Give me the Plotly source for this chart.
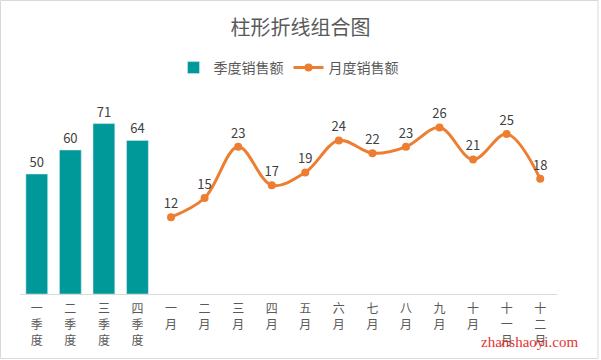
import plotly.graph_objects as go

categories = ["一季度", "二季度", "三季度", "四季度", "一月", "二月", "三月", "四月", "五月", "六月",
              "七月", "八月", "九月", "十月", "十一月", "十二月"]
quarter_cats = categories[:4]
quarter_sales = [50, 60, 71, 64]
month_cats = categories[4:]
month_sales = [12, 15, 23, 17, 19, 24, 22, 23, 26, 21, 25, 18]
tick_text = ["<br>".join(list(c)) for c in categories]

font_family = "Noto Sans CJK SC, Microsoft YaHei, sans-serif"

fig = go.Figure()
fig.add_trace(go.Bar(
    x=quarter_cats, y=quarter_sales, name="季度销售额",
    marker_color="#009999", width=0.65,
    text=quarter_sales, textposition="outside", cliponaxis=False,
    textfont=dict(size=13, color="#404040"),
))
fig.add_trace(go.Scatter(
    x=month_cats, y=month_sales, name="月度销售额", yaxis="y2",
    mode="lines+markers+text", line=dict(color="#ED7D31", width=3, shape="spline", smoothing=1.0),
    marker=dict(size=8, color="#ED7D31"),
    text=month_sales, textposition="top center", cliponaxis=False,
    textfont=dict(size=13, color="#404040"),
))

L, T, W, H = 20, 102, 537, 192
def px_x(p):
    return (p - L) / W
def px_y(p):
    return (T + H - p) / H

fig.update_layout(
    width=601, height=360,
    margin=dict(l=L, r=601 - L - W, t=T, b=360 - T - H, autoexpand=False),
    paper_bgcolor="white", plot_bgcolor="white",
    font=dict(family=font_family, color="#595959"),
    title=dict(text="柱形折线组合图", x=0.5, xanchor="center", y=1 - 28 / 360, yanchor="middle",
               font=dict(size=20, color="#595959")),
    legend=dict(orientation="h", x=0.5, xanchor="center", y=1 - 68 / 360, yref="container",
                yanchor="middle", font=dict(size=14, color="#595959"), traceorder="normal"),
    bargap=0.35,
    xaxis=dict(type="category", categoryorder="array", categoryarray=categories,
               range=[-0.5, len(categories) - 0.5],
               tickmode="array", tickvals=categories, ticktext=tick_text, automargin=False,
               showline=True, linecolor="#D9D9D9", linewidth=1, ticks="", ticklabelstandoff=4,
               showgrid=False, tickfont=dict(size=12, color="#595959"), tickangle=0),
    yaxis=dict(range=[0, 80], visible=False, showgrid=False, automargin=False),
    yaxis2=dict(range=[0, 30], overlaying="y", side="right", visible=False, showgrid=False,
                automargin=False),
    showlegend=True,
    shapes=[dict(type="rect", xref="paper", yref="paper",
                 x0=px_x(0.5), x1=px_x(598), y0=px_y(358.5), y1=px_y(0.5),
                 line=dict(color="#D9D9D9", width=1))],
    annotations=[dict(text="zhanshaoyi.com", xref="paper", yref="paper",
                      x=px_x(580), y=px_y(342), xanchor="right", yanchor="middle",
                      showarrow=False, font=dict(family="Liberation Serif, serif", size=15, color="#E53333"))],
)

fig.write_html("out.html", config={"displayModeBar": False},
               post_script="document.body.style.margin='0';document.body.style.overflow='hidden';")
